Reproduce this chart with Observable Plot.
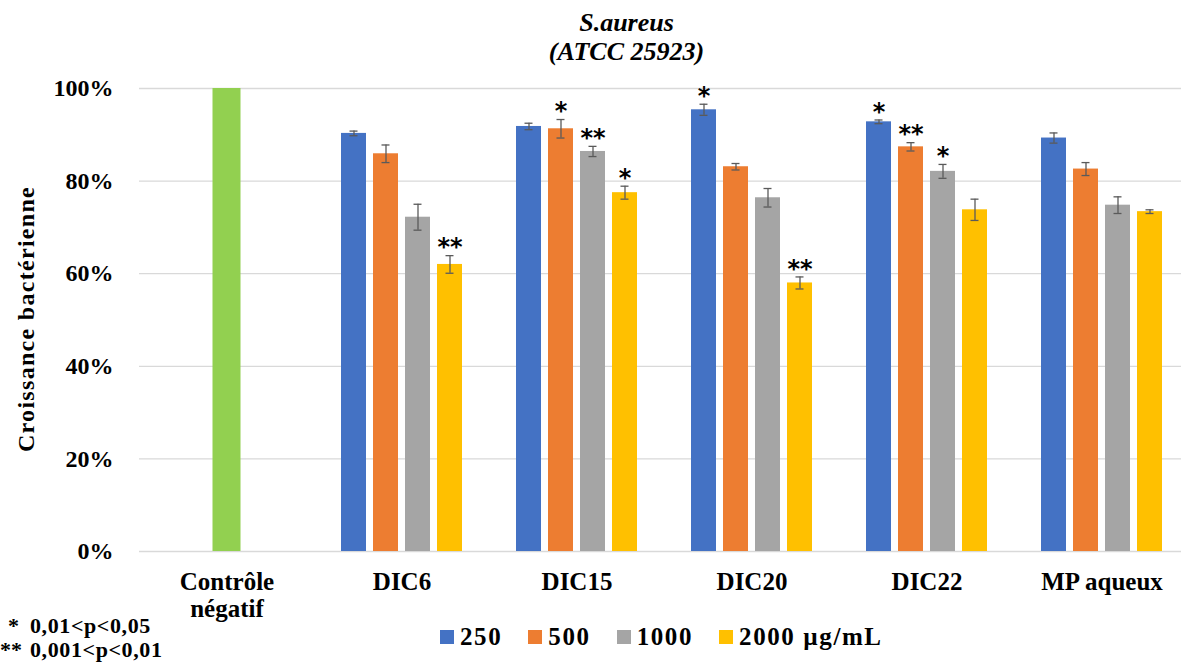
<!DOCTYPE html>
<html>
<head>
<meta charset="utf-8">
<script src="https://cdn.jsdelivr.net/npm/d3@7"></script>
<script src="https://cdn.jsdelivr.net/npm/@observablehq/plot@0.6"></script>
<style>
  html, body { margin: 0; padding: 0; background: #fff; }
  #wrap { position: relative; width: 1181px; height: 662px; overflow: hidden; font-family: "Liberation Serif", serif; font-weight: bold; color: #000; }
  #chart { position: absolute; left: 0; top: 0; }
  #title { position: absolute; left: 426.5px; top: 8px; width: 400px; text-align: center; font-size: 26px; line-height: 29px; font-style: italic; }
  #ylabel { position: absolute; left: 26px; top: 319px; transform: translate(-50%, -50%) rotate(-90deg); white-space: nowrap; font-size: 24px; letter-spacing: 1.3px; }
  #legend { position: absolute; left: 440px; top: 622px; display: flex; align-items: center; font-size: 25px; letter-spacing: 1.6px; line-height: 30px; white-space: nowrap; }
  #legend .item { display: flex; align-items: center; margin-right: 26px; }
  #legend .sw { width: 14px; height: 14px; margin-right: 6px; }
  #notes { position: absolute; left: 0; top: 614px; font-size: 22px; line-height: 24px; white-space: nowrap; letter-spacing: 0.6px; }
  #notes .st { display: inline-block; letter-spacing: 0; }
</style>
</head>
<body>
<div id="wrap">
  <div id="chart"></div>
  <div id="title"></div>
  <div id="ylabel"></div>
  <div id="legend"></div>
  <div id="notes"></div>
</div>
<script>
// ---- data ----
const titleLines = ["S.aureus", "(ATCC 25923)"];
const yLabel = "Croissance bactérienne";
const categories = ["Contrôle\nnégatif", "DIC6", "DIC15", "DIC20", "DIC22", "MP aqueux"];
const controlCategory = ["Contrôle\nnégatif"];
const controlValue = [100];
const groups = ["DIC6", "DIC15", "DIC20", "DIC22", "MP aqueux"];
const concentrations = ["250", "500", "1000", "2000"];
const legendLabels = ["250", "500", "1000", "2000 µg/mL"];
const colors = ["#4472C4", "#ED7D31", "#A5A5A5", "#FFC000"];
const controlColor = "#92D050";
const values250 = [90.3, 91.8, 95.4, 92.8, 89.3];
const values500 = [85.9, 91.3, 83.1, 87.4, 82.6];
const values1000 = [72.2, 86.4, 76.4, 82.1, 74.8];
const values2000 = [62.0, 77.5, 58.0, 73.8, 73.4];
const err250 = [0.5, 0.7, 1.2, 0.4, 1.1];
const err500 = [1.9, 2.0, 0.7, 0.9, 1.4];
const err1000 = [2.8, 1.1, 2.0, 1.5, 1.8];
const err2000 = [1.9, 1.4, 1.3, 2.3, 0.4];
const sig250 = ["", "", "*", "*", ""];
const sig500 = ["", "*", "", "**", ""];
const sig1000 = ["", "**", "", "*", ""];
const sig2000 = ["**", "*", "**", "", ""];
const yTicks = [0, 20, 40, 60, 80, 100];
const noteStars = ["*", "**"];
const noteTexts = ["0,01<p<0,05", "0,001<p<0,01"];

// ---- tables built from the arrays ----
const seriesValues = [values250, values500, values1000, values2000];
const seriesErr = [err250, err500, err1000, err2000];
const seriesSig = [sig250, sig500, sig1000, sig2000];
const rows = [];
groups.forEach((g, i) => {
  concentrations.forEach((c, j) => {
    rows.push({cat: g, conc: c, value: seriesValues[j][i], err: seriesErr[j][i], sig: seriesSig[j][i]});
  });
});
const controlRows = controlCategory.map((c, i) => ({cat: c, value: controlValue[i]}));
const sigRows = rows.filter(d => d.sig !== "");

const errStroke = "#5a5a5a";
const chart = Plot.plot({
  width: 1181,
  height: 662,
  marginTop: 88,
  marginBottom: 111,
  marginLeft: 139,
  marginRight: -8,
  style: {fontFamily: "'Liberation Serif', serif", fontWeight: "bold", fontSize: "24px", color: "#000", background: "transparent"},
  fx: {domain: categories, padding: 0, label: null},
  x: {domain: concentrations, paddingInner: 0.22, paddingOuter: 0.84, axis: null},
  y: {domain: [0, 100], label: null},
  color: {domain: concentrations, range: colors},
  marks: [
    Plot.gridY(yTicks, {stroke: "#D9D9D9", strokeOpacity: 1, strokeWidth: 1.3}),
    Plot.axisY({ticks: yTicks, tickFormat: d => d + "%", tickSize: 0, tickPadding: 26, label: null, fontSize: 24, fontWeight: "bold", letterSpacing: 1}),
    Plot.axisFx({anchor: "bottom", tickSize: 0, tickPadding: 19, label: null, fontSize: 25, fontWeight: "bold", lineHeight: 1.08, letterSpacing: 0.6}),
    Plot.barY(controlRows, {fx: "cat", y: "value", fill: controlColor, insetLeft: 73.5, insetRight: 73.5}),
    Plot.barY(rows, {fx: "cat", x: "conc", y: "value", fill: "conc"}),
    Plot.ruleX(rows, {fx: "cat", x: "conc", y1: d => d.value - d.err, y2: d => d.value + d.err, stroke: errStroke, strokeWidth: 1.3}),
    Plot.tickY(rows, {fx: "cat", x: "conc", y: d => d.value - d.err, stroke: errStroke, strokeWidth: 1.3, insetLeft: 8.5, insetRight: 8.5}),
    Plot.tickY(rows, {fx: "cat", x: "conc", y: d => d.value + d.err, stroke: errStroke, strokeWidth: 1.3, insetLeft: 8.5, insetRight: 8.5}),
    Plot.text(sigRows, {fx: "cat", x: "conc", y: d => d.value + d.err, text: "sig", dy: -8, fontSize: 24, fontFamily: "'DejaVu Sans', sans-serif", fontWeight: "bold", letterSpacing: 3, fill: "#000"})
  ]
});
document.getElementById("chart").appendChild(chart);

// ---- text around the chart ----
document.getElementById("title").innerHTML = titleLines.map(t => `<div>${t}</div>`).join("");
document.getElementById("ylabel").textContent = yLabel;
document.getElementById("legend").innerHTML = legendLabels.map((l, i) =>
  `<div class="item"><div class="sw" style="background:${colors[i]}"></div><span>${l}</span></div>`).join("");
const esc = s => s.replace(/&/g, "&amp;").replace(/</g, "&lt;");
document.getElementById("notes").innerHTML =
  `<div><span class="st" style="width:22px;padding-left:8px">${noteStars[0]}</span>${esc(noteTexts[0])}</div>` +
  `<div><span class="st" style="width:30px">${noteStars[1]}</span>${esc(noteTexts[1])}</div>`;
</script>
</body>
</html>
